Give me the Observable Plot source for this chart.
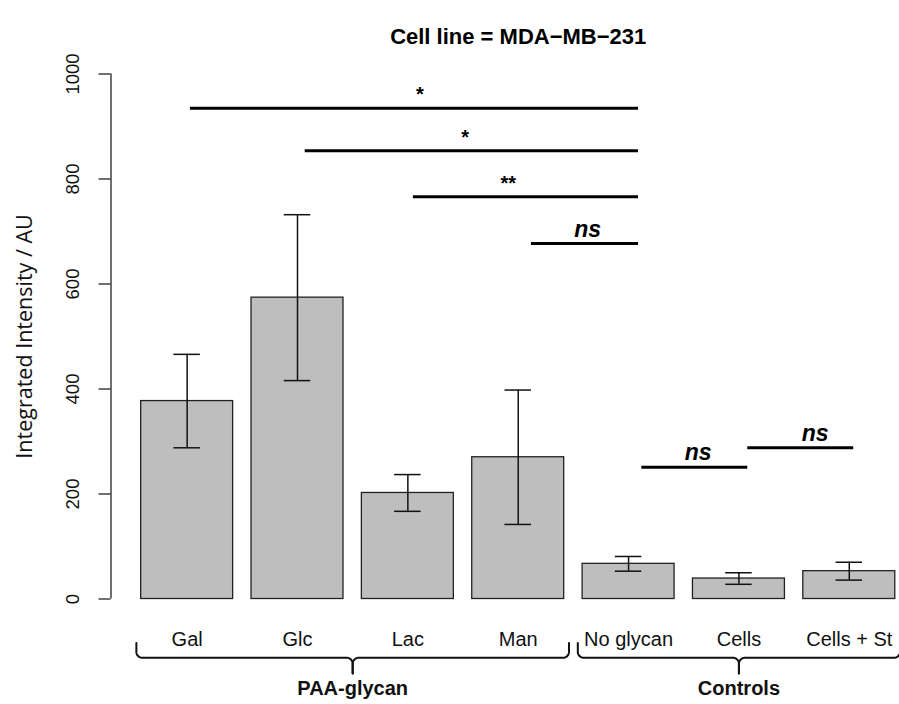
<!DOCTYPE html>
<html><head><meta charset="utf-8">
<script src="https://cdn.jsdelivr.net/npm/d3@7"></script>
<script src="https://cdn.jsdelivr.net/npm/@observablehq/plot@0.6"></script>
<style>body{margin:0;background:#fff}</style>
</head><body><div id="chart"></div>
<script>
// ---- data ----
const categories = ["Gal", "Glc", "Lac", "Man", "No glycan", "Cells", "Cells + St"];
const means = [377, 574, 202, 270, 67, 39, 53];
const errors = [89, 158, 35, 128, 14, 11, 17];
const yTicks = [0, 200, 400, 600, 800, 1000];
const groupNames = ["PAA-glycan", "Controls"];
const groupFirst = [0, 4];
const groupLast = [3, 6];
const sigX1 = [0.03, 1.07, 2.05, 3.12, 4.12, 5.08];
const sigX2 = [4.09, 4.09, 4.09, 4.09, 5.08, 6.04];
const sigY = [935, 854, 766, 677, 251, 288];
const sigText = ["*", "*", "**", "ns", "ns", "ns"];
const sigTextX = [2.11, 2.52, 2.91, 3.63, 4.63, 5.69];
const title = "Cell line = MDA\u2212MB\u2212231";
const yLabel = "Integrated Intensity / AU";

// ---- style constants ----
const xDomain = [-0.69, 6.455];
const BAR_HALF = 5 / 12;
const CAP_HALF = 0.12;
const BRACE_PAD = 0.46;
const Y_HOOK = -84, Y_LINE = -112, Y_TIP = -142;
const RX = 0.055, RY = 11;
const SANS = "'Liberation Sans', Arial, Helvetica, sans-serif";

const idx = d3.range(categories.length);
const bars = idx.map(i => ({i, name: categories[i], mean: means[i], err: errors[i]}));
const sigs = d3.range(sigY.length).map(k => ({x1: sigX1[k], x2: sigX2[k], y: sigY[k], text: sigText[k], tx: sigTextX[k]}));

function braceData() {
  const pts = [];
  groupNames.forEach((g, gi) => {
    const x0 = groupFirst[gi] - BRACE_PAD, x1 = groupLast[gi] + BRACE_PAD;
    const xm = (groupFirst[gi] + groupLast[gi]) / 2;
    const arc = (key, cx, cy, a0, a1) => {
      for (let k = 0; k <= 10; k++) {
        const a = a0 + (a1 - a0) * k / 10;
        pts.push({key, x: cx + RX * Math.cos(a), y: cy + RY * Math.sin(a)});
      }
    };
    const L = g + "-L", R = g + "-R";
    pts.push({key: L, x: x0, y: Y_HOOK});
    arc(L, x0 + RX, Y_LINE + RY, Math.PI, 1.5 * Math.PI);
    arc(L, xm - RX, Y_LINE - RY, 0.5 * Math.PI, 0);
    pts.push({key: L, x: xm, y: Y_TIP});
    pts.push({key: R, x: x1, y: Y_HOOK});
    arc(R, x1 - RX, Y_LINE + RY, 2 * Math.PI, 1.5 * Math.PI);
    arc(R, xm + RX, Y_LINE - RY, 0.5 * Math.PI, Math.PI);
    pts.push({key: R, x: xm, y: Y_TIP});
  });
  return pts;
}
const groups = groupNames.map((g, gi) => ({name: g, x: (groupFirst[gi] + groupLast[gi]) / 2}));

const chart = Plot.plot({
  width: 899,
  height: 704,
  marginLeft: 110.5,
  marginRight: 0,
  marginTop: 73.5,
  marginBottom: 105.5,
  x: {type: "linear", domain: xDomain, axis: null},
  y: {domain: [yTicks[0], yTicks[yTicks.length - 1]], axis: null},
  style: {fontFamily: SANS, background: "white", color: "black", overflow: "visible"},
  marks: [
    // bars
    Plot.rectY(bars, {x1: d => d.i - BAR_HALF, x2: d => d.i + BAR_HALF, y1: 0, y2: "mean",
      fill: "#BEBEBE", stroke: "#222", strokeWidth: 1.3}),
    // error bars
    Plot.ruleX(bars, {x: "i", y1: d => d.mean - d.err, y2: d => d.mean + d.err, stroke: "#111", strokeWidth: 1.5}),
    Plot.ruleY(bars, {y: d => d.mean + d.err, x1: d => d.i - CAP_HALF, x2: d => d.i + CAP_HALF, stroke: "#111", strokeWidth: 1.5}),
    Plot.ruleY(bars, {y: d => d.mean - d.err, x1: d => d.i - CAP_HALF, x2: d => d.i + CAP_HALF, stroke: "#111", strokeWidth: 1.5}),
    // y axis
    Plot.ruleX([xDomain[0]], {y1: yTicks[0], y2: yTicks[yTicks.length - 1], stroke: "#222", strokeWidth: 1.3}),
    Plot.axisY(yTicks, {tickSize: 12, tickFormat: () => "", label: null, stroke: "#222", strokeWidth: 1.3}),
    Plot.text(yTicks, {y: d => d, text: d => String(d), frameAnchor: "left", rotate: -90, dx: -37.5,
      textAnchor: "middle", lineAnchor: "middle", fontSize: 18.5, fill: "#111"}),
    Plot.text([yLabel], {frameAnchor: "left", rotate: -90, dx: -85.5, textAnchor: "middle", lineAnchor: "middle",
      fontSize: 21.5, fontFamily: "'Open Sans', sans-serif", fill: "#111"}),
    // category labels
    Plot.text(bars, {x: "i", text: "name", frameAnchor: "bottom", dy: 46.5, lineAnchor: "bottom", fontSize: 20, fill: "#111"}),
    // braces
    Plot.line(braceData(), {x: "x", y: "y", z: "key", stroke: "#111", strokeWidth: 2}),
    Plot.text(groups, {x: "x", text: "name", frameAnchor: "bottom", dy: 96, lineAnchor: "bottom",
      fontSize: 20, fontWeight: "bold", fill: "#111"}),
    // significance
    Plot.ruleY(sigs, {y: "y", x1: "x1", x2: "x2", stroke: "black", strokeWidth: 3}),
    Plot.text(sigs.filter(d => d.text !== "ns"), {x: "tx", y: "y", text: "text", lineAnchor: "bottom", dy: -7,
      fontSize: 20, fontWeight: "bold", fill: "black"}),
    Plot.text(sigs.filter(d => d.text === "ns"), {x: "tx", y: "y", text: "text", lineAnchor: "bottom", dy: -7,
      fontSize: 23, fontWeight: "bold", fontStyle: "italic", fill: "black"}),
    // title
    Plot.text([title], {x: () => (idx[0] + idx[idx.length - 1]) / 2, frameAnchor: "top", dy: -30, lineAnchor: "bottom",
      fontSize: 22, fontWeight: "bold", fill: "black"})
  ]
});
document.getElementById("chart").appendChild(chart);
</script>
</body></html>
